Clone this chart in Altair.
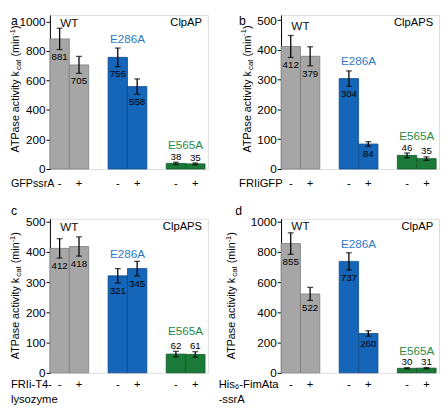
import altair as alt
import pandas as pd

FONT = "Liberation Sans"

# ---------------- data ----------------
GROUPS = ["WT", "WT", "E286A", "E286A", "E565A", "E565A"]
SIGNS = ["-", "+", "-", "+", "-", "+"]
GROUP_NAMES = ["WT", "E286A", "E565A"]
SLOTS = ["WT -", "WT +", "gap 1", "E286A -", "E286A +", "gap 2", "E565A -", "E565A +"]

VALS_A = [881, 705, 756, 558, 38, 35]
ERRS_A = [72, 57, 63, 52, 8, 6]
VALS_B = [412, 379, 304, 84, 46, 35]
ERRS_B = [37, 32, 26, 8, 8, 6]
VALS_C = [412, 418, 321, 345, 62, 61]
ERRS_C = [32, 32, 24, 24, 9, 9]
VALS_D = [855, 522, 737, 260, 30, 31]
ERRS_D = [71, 43, 57, 18, 4, 4]

TICKS_1000 = [0, 200, 400, 600, 800, 1000]
TICKS_500 = [0, 100, 200, 300, 400, 500]

BAR_FILL = ["#a6a6a6", "#1565b8", "#1b7a37"]
BAR_EDGE = ["#7c7c7c", "#0c4a8a", "#0f5526"]
LABEL_COL = {"WT": "#111111", "E286A": "#2f79c6", "E565A": "#2a8a45"}

W, H = 162, 158
ONE = pd.DataFrame({"k": [0]})


def txt(text, x, y, size, **kw):
    return alt.Chart(ONE).mark_text(text=text, fontSize=size, font=FONT, **kw).encode(
        x=alt.value(x), y=alt.value(y))


def panel(vals, errs, ymax, ticks, system, letter, letter_xy, label_ys,
          xlab_lines, xlab_x, sign_dy, yt_x, yt_y0, xlab_size=11.5):
    df = pd.DataFrame({"group": GROUPS, "sign": SIGNS, "value": vals, "err": errs})
    base = alt.Chart(df).transform_calculate(
        slot="datum.group + ' ' + datum.sign",
        lo="datum.value - datum.err",
        hi="datum.value + datum.err",
    )
    xs = alt.Scale(domain=SLOTS, paddingInner=0, paddingOuter=0.075, align=0)
    ys = alt.Scale(domain=[0, ymax], nice=False, zero=True)
    yax = alt.Axis(values=ticks, tickSize=4, tickWidth=1, tickColor="black",
                   domainColor="black", domainWidth=1, labelFontSize=12,
                   labelPadding=1, labelColor="black", labelFont=FONT,
                   grid=False, title=None, format="d")
    X = alt.X("slot:N", scale=xs, axis=None)

    bars = base.mark_bar(strokeWidth=0.8).encode(
        x=X,
        y=alt.Y("value:Q", scale=ys, axis=yax),
        color=alt.Color("group:N", scale=alt.Scale(domain=GROUP_NAMES, range=BAR_FILL), legend=None),
        stroke=alt.Stroke("group:N", scale=alt.Scale(domain=GROUP_NAMES, range=BAR_EDGE), legend=None),
    )
    rule = base.mark_rule(color="black", strokeWidth=1.3).encode(
        x=X, y=alt.Y("lo:Q", scale=ys, axis=yax), y2="hi:Q")
    cap_lo = base.mark_tick(color="black", size=6, thickness=1.3).encode(
        x=X, y=alt.Y("lo:Q", scale=ys, axis=yax))
    cap_hi = base.mark_tick(color="black", size=6, thickness=1.3).encode(
        x=X, y=alt.Y("hi:Q", scale=ys, axis=yax))
    lab_below = base.transform_filter("datum.group != 'E565A'").mark_text(
        fontSize=10, baseline="middle", dy=8, font=FONT, color="black").encode(
        x=X, y=alt.Y("lo:Q", scale=ys, axis=yax), text="value:Q")
    lab_above = base.transform_filter("datum.group == 'E565A'").mark_text(
        fontSize=10, baseline="bottom", dy=-0.5, font=FONT, color="black").encode(
        x=X, y=alt.Y("hi:Q", scale=ys, axis=yax), text="value:Q")
    signs = base.mark_text(fontSize=11.5, baseline="middle", font=FONT, color="black").encode(
        x=X, y=alt.value(H + sign_dy), text="sign:N")

    layers = [bars, rule, cap_lo, cap_hi, lab_below, lab_above, signs]

    # group labels
    for g, ly in zip(GROUP_NAMES, label_ys):
        layers.append(
            alt.Chart(ONE).mark_text(text=g, fontSize=12, font=FONT, baseline="middle",
                                     color=LABEL_COL[g]).encode(
                x=alt.X(datum=g + " +", type="nominal", scale=xs, axis=None, bandPosition=0),
                y=alt.Y(datum=ly, type="quantitative", scale=ys, axis=yax),
            )
        )

    # system label, panel letter
    layers.append(txt(system, W - 6, 8.5, 11.5, align="right", baseline="middle", color="black"))
    layers.append(txt(letter, letter_xy[0], letter_xy[1], 12.5, align="left", baseline="middle", color="black"))

    # x label (left of the +/- row)
    for i, line in enumerate(xlab_lines):
        layers.append(txt(line, xlab_x, H + sign_dy + 15 * i, xlab_size, align="left",
                          baseline="middle", color="black"))

    # y title: ATPase activity k_cat (min^-1)
    y0 = yt_y0
    layers.append(txt("ATPase activity k", yt_x, y0, 11, angle=270, align="left",
                      baseline="middle", color="black"))
    layers.append(txt("cat", yt_x + 3, y0 - 84.6, 8, angle=270, align="left",
                      baseline="middle", color="black"))
    layers.append(txt("(min", yt_x, y0 - 98.4, 11, angle=270, align="left",
                      baseline="middle", color="black"))
    layers.append(txt("-1", yt_x - 3.5, y0 - 119.8, 7.5, angle=270, align="left",
                      baseline="middle", color="black"))
    layers.append(txt(")", yt_x, y0 - 126.5, 11, angle=270, align="left",
                      baseline="middle", color="black"))

    return alt.layer(*layers).properties(width=W, height=H)


pa = panel(VALS_A, ERRS_A, 1043, TICKS_1000, "ClpAP", "a", (-40, 6),
           [990, 878, 162], ["GFPssrA"], -40, 15, -34.5, 141, xlab_size=11)
pb = panel(VALS_B, ERRS_B, 518, TICKS_500, "ClpAPS", "b", (-43, 6),
           [482, 364, 111], ["FRIiGFP"], -43, 15, -34, 141)
pc = panel(VALS_C, ERRS_C, 510, TICKS_500, "ClpAPS", "c", (-40, -8),
           [481, 394, 139], ["FRIi-T4-", "lysozyme"], -40, 12.5, -34.5, 144)
pd_ = panel(VALS_D, ERRS_D, 1019, TICKS_1000, "ClpAP", "d", (-47, -8),
            [968, 852, 146], ["His\u2086-FimAta", "-ssrA"], -64, 12.5, -50, 144)

chart = alt.concat(
    pa, pb, pc, pd_, columns=2,
    spacing={"row": 51, "column": 75},
    bounds="flush",
    padding=0,
).configure_view(stroke="black", strokeWidth=1).configure(font=FONT)

chart.save("out.html", embed_options={"renderer": "svg", "actions": False})
